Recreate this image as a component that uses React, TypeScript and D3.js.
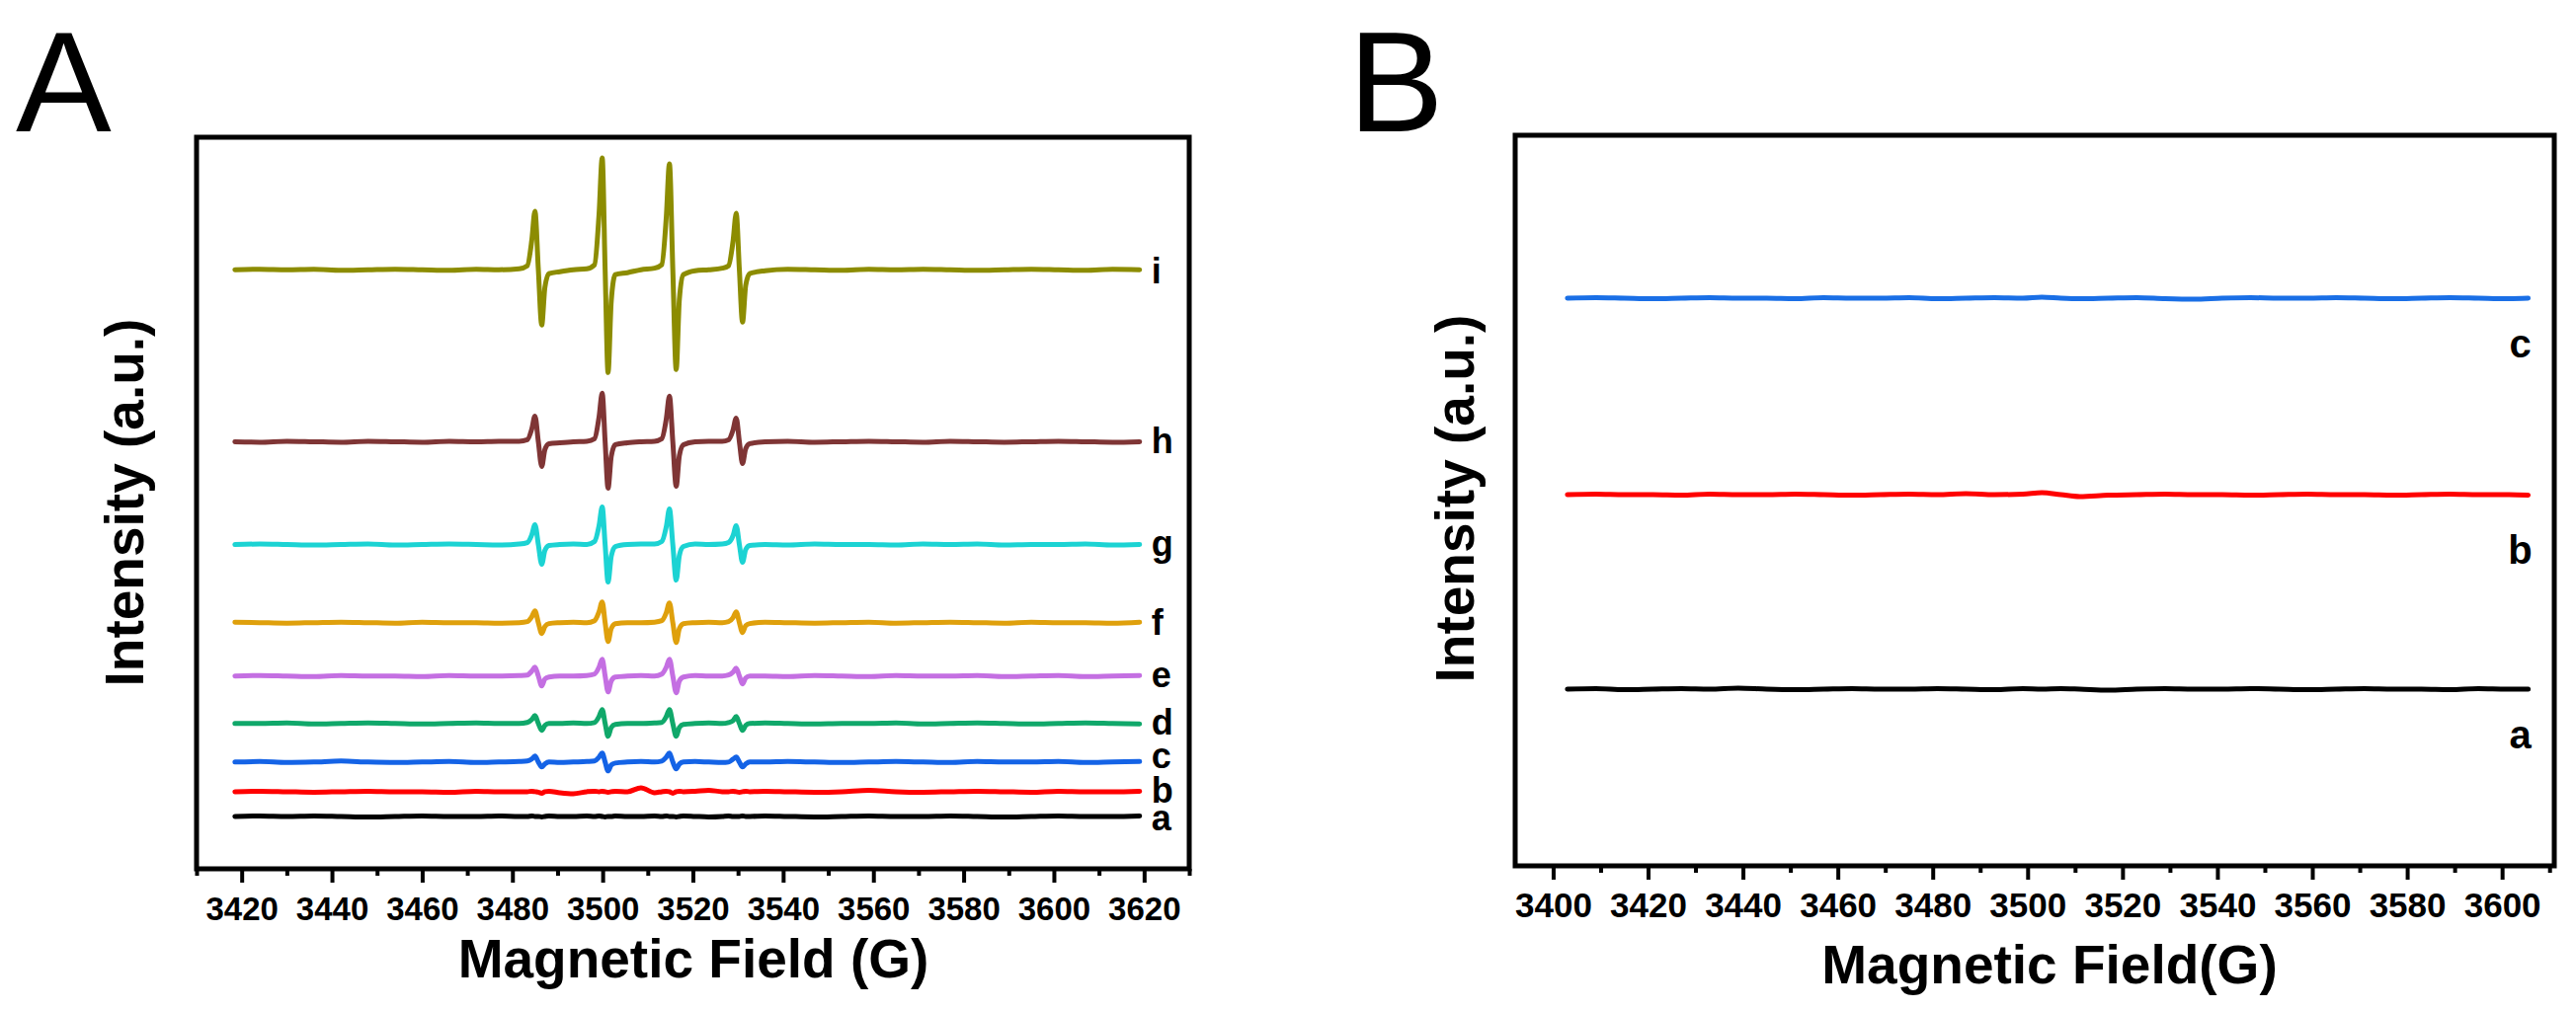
import * as React from 'react';
import { useEffect, useRef } from 'react';
import * as d3 from 'd3';

const W = 2608;
const H = 1023;
const FONT = '"Liberation Sans", Arial, Helvetica, sans-serif';

// ---------- panel A: digitised field positions (G), shared by traces a..i
const fieldA = [
    3418.5, 3424, 3430, 3436, 3442, 3448, 3454, 3460, 3466, 3472, 3477, 3481.5,
    3483.3, 3484.3, 3485.0, 3485.75, 3486.5, 3487.2, 3488.1,
    3490.5, 3493.5, 3496.5,
    3498.2, 3499.2, 3499.9, 3500.55, 3501.2, 3501.9, 3502.8,
    3505.5, 3508.5, 3511.5,
    3513.1, 3514.1, 3514.8, 3515.55, 3516.3, 3517.0, 3517.9,
    3520.5, 3523.5, 3526.5,
    3527.9, 3528.9, 3529.6, 3530.3, 3531.0, 3531.7, 3532.6,
    3536, 3541, 3547, 3553, 3559, 3565, 3571, 3577, 3583, 3589, 3595, 3601, 3607, 3613, 3619,
];

// intensity of each trace above its own baseline (a.u.)
const specA_a = [
    0, 0.5, 0, 0.5, 0, -0.5, 0, 0.5, 0, 0, 0.5, 0,
    0, 0.5, 0, 0, -0.5, 0, 0.5,
    0, 0, 0.5,
    0, 0.5, 0, -0.5, 0, 0, 0.5,
    0, 0, 0.5,
    0, 0.5, 0, 0, -0.5, 0, 0.5,
    0, -0.5, 0,
    0.5, 0, 0, 0, 0.5, 0, 0,
    0.5, 0, -0.5, 0, 0.5, 0, 0, 0.5, 0, -0.5, 0, 0.5, 0, 0, 0.5,
];
const specA_b = [
    0, 0.5, 0, -0.5, 0, 0.5, 0, 0, -0.5, 0.5, 0, 0,
    0, 0.5, 0, -0.5, -1.5, 0, 0.5,
    -1, -2, 0,
    0.5, 0, 0.5, 0, -0.5, 0, 0.5,
    0, 4, -1,
    0, 0.5, 0, -1.5, 0, 0.5, 0,
    0.5, 1.5, 0,
    0, 0.5, 0, -0.5, 0, 0.5, 0,
    0.5, 0, -0.5, 0, 1.5, 0, -0.5, 0, 0.5, 0, -0.5, 0.5, 0, 0, 0.5,
];
const specA_c = [
    0, 0.5, -0.5, 0, 1, 0, -0.5, 0, 0.5, -0.5, 0, 0.5,
    1, 3, 6, 0, -5, -2, 0,
    -0.5, 0, 0.5,
    1, 5, 9, 0, -9, -3, -1,
    0, 0.5, 0,
    1, 5, 9, 0, -7, -2, 0,
    0.5, 0, -0.5,
    0, 3, 5, 0, -5, -2, 0,
    0, 0.5, 0, -0.5, 0, 0.5, 0, -0.5, 0.5, 0, 0, 0.5, -0.5, 0, 0.5,
];
const specA_d = [
    0, 0, 0.5, -0.5, 0, 0.5, 0, -0.5, 0, 0.5, 0, 0,
    1, 4, 8, 0, -7, -2, 0,
    0, 0.5, 0,
    1, 7, 14, 0, -13, -4, -1,
    0, 0, 0.5,
    1, 7, 14, 0, -13, -4, -1,
    0, 0.5, 0,
    1, 3, 7, 0, -7, -2, 0,
    0.5, 0, -0.5, 0, 0, 0.5, -0.5, 0, 0.5, 0, -0.5, 0, 0.5, 0, -0.5,
];
const specA_e = [
    0, 0.5, 0, -0.5, 0.5, 0, 0, -0.5, 0.5, 0, 0, 0.5,
    1, 5, 9, 0, -10, -3, -1,
    0, 0, 0.5,
    2, 9, 17, 0, -16, -5, -1,
    0, 0.5, 0,
    2, 9, 17, 0, -17, -5, -1,
    0.5, 0, 0,
    1, 4, 8, 0, -8, -2, 0,
    0, -0.5, 0.5, 0, -0.5, 0.5, 0, 0, 0.5, -0.5, 0, 0.5, -0.5, 0, 0.5,
];
const specA_f = [
    0.5, 0, -0.5, 0, 0.5, 0, -0.5, 0.5, 0, 0, -0.5, 0,
    1, 6, 12, 0, -11, -4, -1,
    0, 0.5, 0,
    2, 11, 21, 0, -19, -6, -1,
    0, 0, 0.5,
    2, 10, 20, 0, -20, -6, -1,
    0, 0.5, 0,
    1, 5, 11, 0, -10, -3, -1,
    0.5, 0, -0.5, 0, 0.5, -0.5, 0, 0.5, 0, -0.5, 0.5, 0, 0, -0.5, 0.5,
];
const specA_g = [
    0, 0.5, 0, -0.5, 0, 0.5, -0.5, 0, 0.5, 0, -0.5, 0.5,
    2, 10, 20, 0, -20, -6, -1,
    0, 0.5, 0,
    3, 19, 38, 0, -38, -12, -2,
    0, 0.5, 0.5,
    3, 18, 36, 0, -36, -11, -2,
    0.5, 0, 0.5,
    2, 9, 19, 0, -18, -5, -1,
    0, -0.5, 0.5, 0, 0, -0.5, 0.5, 0, 0.5, -0.5, 0, 0, 0.5, -0.5, 0,
];
const specA_h = [
    0, -0.5, 0.5, 0, -0.5, 0.5, 0, -0.5, 0.5, 0, 0.5, 0.5,
    2, 13, 26, 0, -25, -8, -2,
    -1, 0, 0.5,
    3, 25, 49, 0, -47, -15, -3,
    -1, 0, 0.5,
    3, 23, 46, 0, -45, -14, -3,
    0, 0.5, 0.5,
    2, 12, 24, 0, -22, -7, -2,
    0, 0.5, -0.5, 0, 0.5, 0, -0.5, 0.5, 0, -0.5, 0, 0.5, 0, -0.5, 0,
];
const specA_i = [
    0, 0.5, 0, 0.5, -0.5, 0, 0.5, 0, -0.5, 0.5, 0, 1,
    4, 30, 59, 0, -56, -18, -4,
    -2, 0, 1,
    5, 56, 113, 0, -104, -32, -5,
    -3, 0, 1.5,
    5, 53, 107, 0, -101, -30, -5,
    -1, 0, 1.5,
    4, 29, 57, 0, -53, -16, -4,
    -1, 0.5, 0, -0.5, 0.5, 0, 0.5, 0, -0.5, 0, 0.5, 0, -0.5, 0.5, 0,
];

const namesA = ['a', 'b', 'c', 'd', 'e', 'f', 'g', 'h', 'i'];
const specsA = [specA_a, specA_b, specA_c, specA_d, specA_e, specA_f, specA_g, specA_h, specA_i];
const offsetsA = [53, 78, 108, 147, 195, 249, 328, 432, 606];
const colorsA = ['#000000', '#ff0000', '#1463e6', '#10a86a', '#c46fe2', '#dfa00c', '#1cd3d3', '#7f3535', '#8c8c00'];
const ticksA = [3420, 3440, 3460, 3480, 3500, 3520, 3540, 3560, 3580, 3600, 3620];
const minorTicksA = [3410, 3430, 3450, 3470, 3490, 3510, 3530, 3550, 3570, 3590, 3610, 3630];

// ---------- panel B
const fieldB = [
    3403, 3409, 3415, 3421, 3427, 3433, 3439, 3445, 3451, 3457, 3463, 3469,
    3475, 3481, 3487, 3493, 3499, 3503, 3507, 3511, 3517, 3523, 3529, 3535,
    3541, 3547, 3553, 3559, 3565, 3571, 3577, 3583, 3589, 3595, 3601, 3605.5,
];
const specB_a = [0, 0.5, -0.5, 0, 0.5, 0, 1, 0, -0.5, 0, 0.5, 0, 0, 0.5, 0, -0.5, 0.5, 0, 0.5, 0, -1, 0, 0.5, 0, 0, 0.5, 0, -0.5, 0, 0.5, 0, 0, -0.5, 0.5, 0, 0];
const specB_b = [0, 0.5, 0, 0, -0.5, 0.5, 0, 0, 0.5, 0, -0.5, 0, 0.5, 0, 1, 0, 0.5, 2, 0, -2, -0.5, 0, 0.5, 0, 0, -0.5, 0, 0.5, 0, 0, -0.5, 0, 0.5, 0, 0, -0.5];
const specB_c = [0, 0.5, 0, -0.5, 0, 0.5, 0, 0, -0.5, 0.5, 0, 0, 0.5, -0.5, 0, 0.5, 0, 1, 0, -0.5, 0, 0.5, -0.5, -1, 0, 0.5, 0, 0, 0.5, 0, -0.5, 0, 0.5, 0, -0.5, 0];

const namesB = ['a', 'b', 'c'];
const specsB = [specB_a, specB_b, specB_c];
const offsetsB = [179, 376, 575];
const colorsB = ['#000000', '#ff0000', '#1a6fe6'];
const ticksB = [3400, 3420, 3440, 3460, 3480, 3500, 3520, 3540, 3560, 3580, 3600];
const minorTicksB = [3410, 3430, 3450, 3470, 3490, 3510, 3530, 3550, 3570, 3590, 3610];

interface PanelOpts {
    box: { left: number; right: number; top: number; bottom: number };
    domain: [number, number];
    field: number[];
    names: string[];
    specs: number[][];
    offsets: number[];
    colors: string[];
    ticks: number[];
    minorTicks: number[];
    tickFont: number;
    xTitle: string;
    xTitlePos: [number, number];
    yTitlePos: [number, number];
    titleFont: number;
    labelFont: number;
    labelX: (x: d3.ScaleLinear<number, number>) => number;
    labelAnchor: string;
    labelDy: number[];
}

const drawPanel = (root: d3.Selection<SVGGElement, unknown, null, undefined>, o: PanelOpts) => {
    const { box } = o;
    const x = d3.scaleLinear().domain(o.domain).range([box.left, box.right]);
    const y = d3.scaleLinear().domain([0, 740]).range([box.bottom, box.top]);

    // spectra
    o.specs.forEach((spec, k) => {
        const line = d3.line<number>()
            .x((_, i) => x(o.field[i]))
            .y(v => y(o.offsets[k] + v))
            .curve(d3.curveMonotoneX);
        root.append('path')
            .attr('d', line(spec))
            .attr('fill', 'none')
            .attr('stroke', o.colors[k])
            .attr('stroke-width', 5)
            .attr('stroke-linejoin', 'round')
            .attr('stroke-linecap', 'round');

        root.append('text')
            .attr('x', o.labelX(x))
            .attr('y', y(o.offsets[k]) + o.labelDy[k])
            .attr('text-anchor', o.labelAnchor)
            .attr('font-family', FONT)
            .attr('font-weight', 'bold')
            .attr('font-size', o.labelFont)
            .attr('fill', '#000')
            .text(o.names[k]);
    });

    // frame
    root.append('rect')
        .attr('x', box.left).attr('y', box.top)
        .attr('width', box.right - box.left).attr('height', box.bottom - box.top)
        .attr('fill', 'none').attr('stroke', '#000').attr('stroke-width', 5);

    // bottom axis, major + minor ticks
    const major = root.append('g').attr('transform', `translate(0,${box.bottom})`)
        .call(d3.axisBottom(x).tickValues(o.ticks).tickSize(14).tickFormat(d3.format('d')));
    const minor = root.append('g').attr('transform', `translate(0,${box.bottom})`)
        .call(d3.axisBottom(x).tickValues(o.minorTicks).tickSize(7).tickFormat(() => ''));
    [major, minor].forEach(g => {
        g.select('.domain').remove();
        g.selectAll('line').attr('stroke', '#000').attr('stroke-width', 4);
    });
    major.selectAll('text')
        .attr('y', 52).attr('dy', null)
        .attr('fill', '#000')
        .attr('font-family', FONT)
        .attr('font-weight', 'bold')
        .attr('font-size', o.tickFont);

    // axis titles
    root.append('text')
        .attr('x', o.xTitlePos[0]).attr('y', o.xTitlePos[1])
        .attr('text-anchor', 'middle')
        .attr('font-family', FONT).attr('font-weight', 'bold').attr('font-size', o.titleFont)
        .text(o.xTitle);
    root.append('text')
        .attr('transform', `translate(${o.yTitlePos[0]},${o.yTitlePos[1]}) rotate(-90)`)
        .attr('text-anchor', 'middle')
        .attr('font-family', FONT).attr('font-weight', 'bold').attr('font-size', o.titleFont)
        .text('Intensity (a.u.)');
};

const App: React.FC = () => {
    const gRef = useRef<SVGGElement | null>(null);

    useEffect(() => {
        if (!gRef.current) return;
        const root = d3.select(gRef.current);
        root.selectAll('*').remove();

        drawPanel(root.append('g'), {
            box: { left: 199, right: 1204, top: 139, bottom: 880 },
            domain: [3410, 3630],
            field: fieldA,
            names: namesA,
            specs: specsA,
            offsets: offsetsA,
            colors: colorsA,
            ticks: ticksA,
            minorTicks: minorTicksA,
            tickFont: 33,
            xTitle: 'Magnetic Field (G)',
            xTitlePos: [702, 990],
            yTitlePos: [145, 509],
            titleFont: 55,
            labelFont: 36,
            labelX: x => x(fieldA[fieldA.length - 1]) + 12,
            labelAnchor: 'start',
            labelDy: [14, 11, 6, 11, 11, 12, 11, 12, 14],
        });

        drawPanel(root.append('g'), {
            box: { left: 1534, right: 2586, top: 137, bottom: 877 },
            domain: [3392, 3611],
            field: fieldB,
            names: namesB,
            specs: specsB,
            offsets: offsetsB,
            colors: colorsB,
            ticks: ticksB,
            minorTicks: minorTicksB,
            tickFont: 35,
            xTitle: 'Magnetic Field(G)',
            xTitlePos: [2075, 996],
            yTitlePos: [1492, 505],
            titleFont: 55,
            labelFont: 40,
            labelX: x => x(fieldB[fieldB.length - 1]) - 8,
            labelAnchor: 'middle',
            labelDy: [60, 70, 60],
        });
    }, []);

    return (
        <svg width={W} height={H} viewBox={`0 0 ${W} ${H}`}
            style={{ position: 'absolute', left: 0, top: 0, background: '#fff' }}>
            <rect x={0} y={0} width={W} height={H} fill='#fff' />
            <text x={16} y={133} fontFamily={FONT} fontSize={145}>A</text>
            <text x={1365} y={133} fontFamily={FONT} fontSize={145}>B</text>
            <g ref={gRef} />
        </svg>
    );
};

export default App;
